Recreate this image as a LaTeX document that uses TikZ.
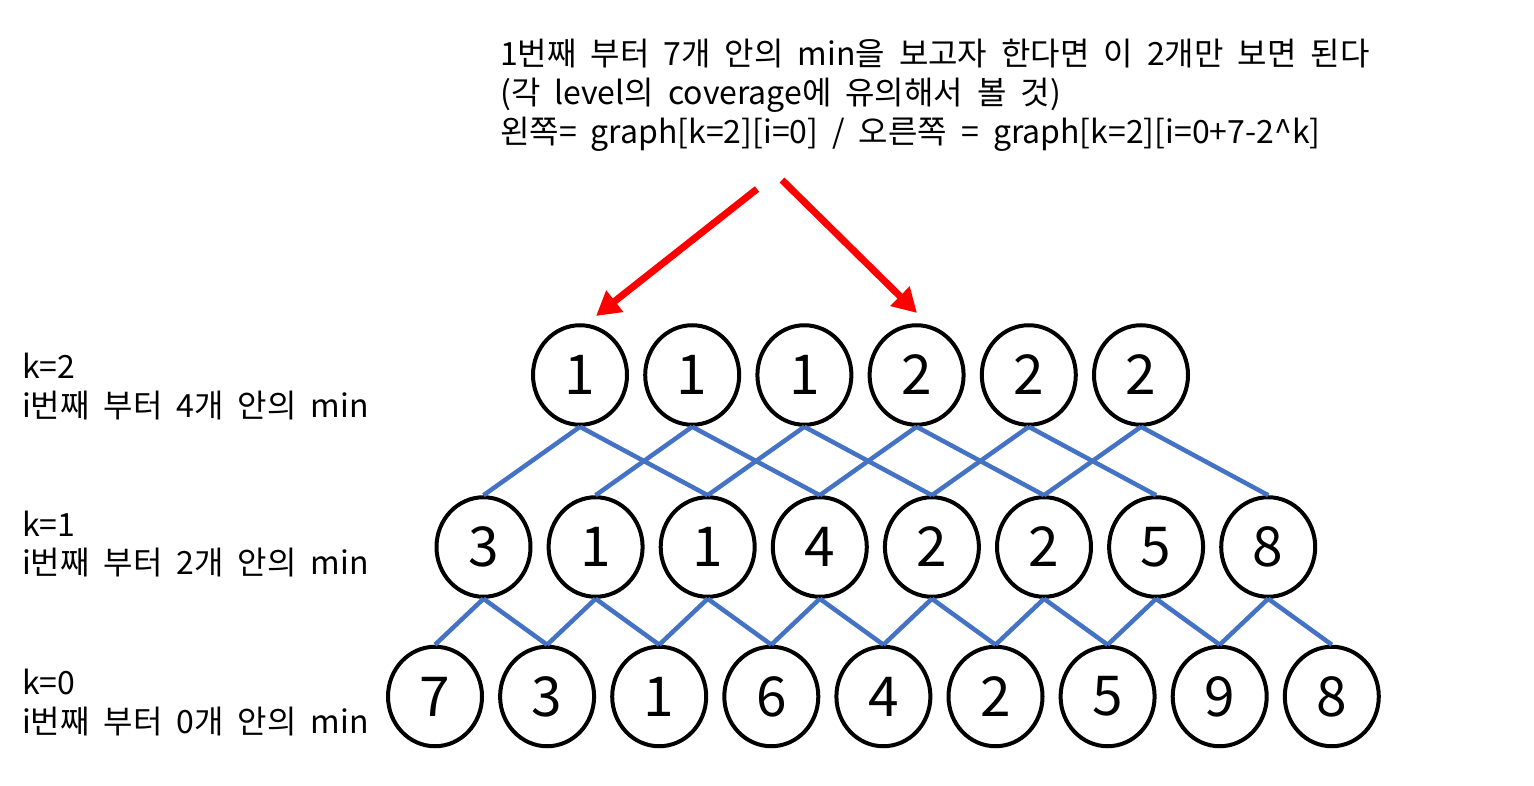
\documentclass[tikz,border=0pt]{standalone}
\usepackage{fontspec}
\setmainfont{Noto Sans CJK KR}[WordSpace=1.95]
\usetikzlibrary{shapes.geometric,arrows.meta}
\definecolor{edgeblue}{HTML}{4472C4}
\begin{document}
\begin{tikzpicture}[x=1pt,y=-1pt,
  circ/.style={ellipse,draw,line width=4pt,minimum width=94pt,minimum height=99.5pt,inner sep=0pt,font=\fontsize{55}{60}\selectfont},
  link/.style={edgeblue,line width=4.5pt},
  ptr/.style={red,line width=7pt,-{Triangle[length=24pt,width=26pt]}},
  lbl/.style={anchor=base west,inner sep=0pt,font=\fontsize{32}{36}\selectfont}]
\useasboundingbox[fill=white] (0,0) rectangle (1534,786);
% top text
\node[lbl] (t1) at (500,66) {1번째 부터 7개 안의 min을 보고자 한다면 이 2개만 보면 된다};
\node[lbl] (t2) at (500,105) {(각 level의 coverage에 유의해서 볼 것)};
\node[lbl] (t3) at (500,144) {왼쪽= graph[k=2][i=0] / 오른쪽 = graph[k=2][i=0+7-2\^{}k]};
% left labels
\node[lbl] (l2a) at (22,378) {k=2};
\node[lbl] (l2b) at (22,417) {i번째 부터 4개 안의 min};
\node[lbl] (l1a) at (22,536) {k=1};
\node[lbl] (l1b) at (22,574) {i번째 부터 2개 안의 min};
\node[lbl] (l0a) at (22,694) {k=0};
\node[lbl] (l0b) at (22,733) {i번째 부터 0개 안의 min};
% rows
\foreach \v [count=\i from 0] in {1,1,1,2,2,2}
  \node[circ] (T\i) at (580+112.2*\i,375) {\v};
\foreach \v [count=\i from 0] in {3,1,1,4,2,2,5,8}
  \node[circ] (M\i) at (483.5+112.1*\i,547) {\v};
\foreach \v [count=\i from 0] in {7,3,1,6,4,2,5,9,8}
  \node[circ] (B\i) at (435+112.1*\i,696.5) {\v};
% links
\foreach \i [evaluate=\i as \j using int(\i+2)] in {0,...,5} {
  \draw[link] (T\i.south) -- (M\i.north);
  \draw[link] (T\i.south) -- (M\j.north);
}
\foreach \i [evaluate=\i as \j using int(\i+1)] in {0,...,7} {
  \draw[link] (M\i.south) -- (B\i.north);
  \draw[link] (M\i.south) -- (B\j.north);
}
% red arrows
\coordinate (a1s) at (757,189);
\coordinate (a1e) at (596,316);
\coordinate (a2s) at (782,180);
\coordinate (a2e) at (917,313);
\draw[ptr] (a1s) -- (a1e);
\draw[ptr] (a2s) -- (a2e);
\end{tikzpicture}
\end{document}
